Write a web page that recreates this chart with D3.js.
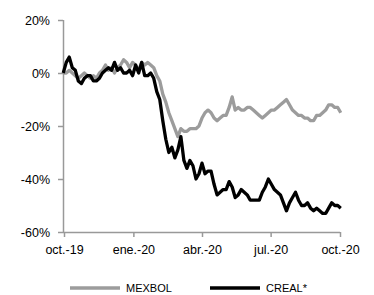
<!DOCTYPE html>
<html>
<head>
<meta charset="utf-8">
<script src="https://cdn.jsdelivr.net/npm/d3@7"></script>
<style>
    body { margin: 0; background: #fff; }
    svg text { font-family: "Liberation Sans", Arial, sans-serif; fill: #000; }
</style>
</head>
<body>
<svg id="chart" width="374" height="295"></svg>
<script>
(function () {
    'use strict';

    // one reading every 4 days, starting 30 sep 2019
    var startDate = new Date(2019, 8, 30);
    var stepDays = 4;

    var mexbol = [
        0, 0, 1, 0, -1, -2, -1, 0, -1, -2,
        -1, -2, 0, 1, 3, 1, 2, 0, 2, 3,
        5, 4, 2, 4, 3, 1, 4, 3, 4, 3,
        2, -1, -3, -8, -11, -15, -18, -21, -24, -21,
        -22, -22, -21, -21, -21, -20, -17, -15, -14, -15,
        -17, -18, -17, -16, -16, -13, -9, -14, -13, -14,
        -14, -13, -13, -14, -15, -16, -17, -16, -15, -14,
        -14, -13, -12, -11, -10, -12, -14, -15, -16, -16,
        -17, -17, -18, -18, -16, -16, -15, -14, -12, -12,
        -13, -13, -15
    ];

    var creal = [
        0, 4, 6, 2, 1, -3, -4, -2, -1, -1,
        -3, -3, -2, 0, 1, 2, 1, 4, 1, 2,
        0, 0, 1, -1, 3, 0, 4, -1, -1, 0,
        -2, -7, -10, -18, -25, -30, -28, -32, -29, -24,
        -33, -36, -33, -35, -40, -38, -34, -38, -37, -37,
        -42, -46, -45, -44, -44, -41, -43, -47, -46, -44,
        -45, -46, -48, -48, -48, -48, -45, -43, -40, -42,
        -44, -45, -46, -49, -52, -49, -47, -45, -48, -50,
        -50, -49, -51, -52, -51, -52, -53, -53, -51, -49,
        -50, -50, -51
    ];

    var yTicks = [20, 0, -20, -40, -60];
    var xTickDates = [new Date(2019, 9, 1), new Date(2020, 0, 1), new Date(2020, 3, 1),
        new Date(2020, 6, 1), new Date(2020, 9, 1)];
    var xTickLabels = ["oct.-19", "ene.-20", "abr.-20", "jul.-20", "oct.-20"];

    var seriesNames = ["MEXBOL", "CREAL*"];
    var seriesColors = ["#9c9c9c", "#000000"];

    var svg = d3.select("svg#chart");

    var x = d3.scaleTime()
        .domain([xTickDates[0], xTickDates[xTickDates.length - 1]])
        .range([64, 340]);
    var y = d3.scaleLinear().domain([-60, 20]).range([232, 20]);

    function toPoints(values) {
        return values.map(function (v, i) {
            return {date: d3.timeDay.offset(startDate, i * stepDays), value: v};
        });
    }

    var series = [toPoints(mexbol), toPoints(creal)];

    var line = d3.line()
        .x(function (d) { return x(d.date); })
        .y(function (d) { return y(d.value); });

    // axes
    var yAxis = svg.append("g")
        .attr("transform", "translate(63,0)")
        .call(d3.axisLeft(y).tickValues(yTicks).tickSize(5).tickPadding(8)
            .tickFormat(function (d) { return d + "%"; }));

    var xAxis = svg.append("g")
        .attr("transform", "translate(0,232)")
        .call(d3.axisBottom(x).tickValues(xTickDates).tickSize(5).tickPadding(8)
            .tickFormat(function (d, i) { return xTickLabels[i]; }));

    [yAxis, xAxis].forEach(function (a) {
        a.select(".domain").attr("stroke", "#999").attr("stroke-width", 1.5);
        a.selectAll(".tick line").attr("stroke", "#999").attr("stroke-width", 1.5);
        a.selectAll(".tick text").style("font-size", "12.5px");
    });
    // x axis line without the end caps
    xAxis.select(".domain").attr("d", "M63,0.5H340");
    yAxis.select(".domain").attr("d", "M0.5,20V232");

    // lines
    svg.selectAll(".series")
        .data(series)
        .enter().append("path")
        .attr("class", "series")
        .attr("fill", "none")
        .attr("stroke", function (d, i) { return seriesColors[i]; })
        .attr("stroke-width", 3.3)
        .attr("stroke-linejoin", "round")
        .attr("d", line);

    // legend
    var legendX = [70, 210];
    var legend = svg.selectAll(".legend")
        .data(seriesNames)
        .enter().append("g")
        .attr("class", "legend")
        .attr("transform", function (d, i) { return "translate(" + legendX[i] + ",288)"; });

    legend.append("line")
        .attr("x1", 0).attr("x2", 50)
        .attr("stroke", function (d, i) { return seriesColors[i]; })
        .attr("stroke-width", 3.3);

    legend.append("text")
        .attr("x", 56)
        .attr("dy", "0.35em")
        .style("font-size", "11px")
        .text(function (d) { return d; });
})();
</script>
</body>
</html>
